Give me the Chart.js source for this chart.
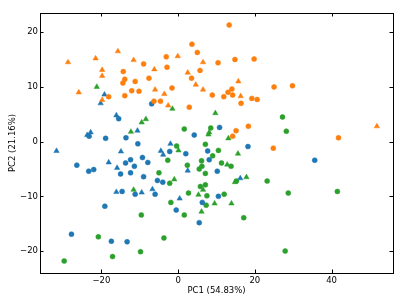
<!DOCTYPE html>
<html>
<head>
<meta charset="utf-8">
<script src="https://cdn.jsdelivr.net/npm/chart.js@4/dist/chart.umd.min.js"></script>
<style>
  body { margin: 0; background: #fff; }
  canvas { display: block; }
</style>
</head>
<body>
<canvas id="mainChart" width="407" height="305"></canvas>
<script>
// PCA scores: [PC1, PC2]
const orangeCircles = [
  [-9.0, 14.2], [-14.3, 12.8], [-13.9, 11.4], [-14.4, 10.7], [-11.2, 11.0], [-7.6, 11.6],
  [-18.1, 8.2], [-13.9, 8.4], [-12.1, 9.3], [-10.2, 9.2], [-6.3, 7.4], [-4.6, 7.4],
  [-3.1, 15.5], [-2.9, 13.6], [-1.6, 9.8], [2.9, 6.3], [3.6, 17.8], [5.0, 16.3],
  [5.7, 13.0], [3.5, 11.6], [13.3, 21.3], [10.4, 14.4], [14.8, 15.0], [19.8, 15.1],
  [8.9, 8.5], [11.9, 8.2], [13.0, 9.0], [14.0, 9.6], [14.2, 8.5], [16.4, 7.0],
  [19.2, 7.9], [20.6, 7.7], [25.0, 10.0], [29.8, 10.2], [18.3, 2.8], [15.1, 2.0],
  [14.2, 1.0], [41.8, 0.7], [24.8, -1.2]
];
const orangeTriangles = [
  [-28.7, 14.5], [-21.5, 15.2], [-15.7, 16.5], [-11.6, 14.9], [-6.2, 13.2], [-19.8, 13.1],
  [-19.8, 12.0], [-25.9, 9.0], [-6.0, 9.5], [-19.8, 7.6], [-3.6, 8.7], [-2.6, 6.6],
  [-0.1, 15.6], [2.5, 12.6], [4.6, 10.4], [6.5, 14.5], [6.5, 9.5], [15.7, 11.0],
  [16.3, 8.3], [51.8, 2.8]
];
const blueCircles = [
  [-6.9, 6.9], [-15.5, 4.2], [-23.2, 1.0], [-18.9, 0.6], [-13.6, 0.7], [-10.5, -0.4],
  [-9.3, -2.9], [-12.4, -3.3], [-7.9, -3.8], [-13.7, -3.9], [-11.4, -4.5], [-26.4, -4.3],
  [-23.3, -5.4], [-22.0, -5.1], [-15.0, -5.9], [-12.4, -5.7], [-9.0, -6.4], [-5.4, -7.1],
  [-4.0, -7.4], [-14.6, -9.1], [-11.2, -9.6], [-6.0, -9.6], [-19.1, -11.8], [-27.8, -16.9],
  [-17.4, -18.2], [-13.3, -18.3], [-2.2, -1.8], [2.0, -2.2], [4.2, 1.2], [10.8, 2.6],
  [7.7, -1.7], [18.2, -0.9], [8.1, -3.3], [10.2, -5.4], [6.3, -11.1], [10.5, -10.0],
  [-0.5, -12.5], [5.5, -14.8], [35.6, -3.4]
];
const blueTriangles = [
  [-19.2, 8.6], [-20.2, 7.0], [-16.1, 4.8], [-10.6, 2.0], [-22.8, 1.7], [-23.7, 1.2],
  [-31.7, -1.7], [-14.9, -1.8], [-4.5, -1.7], [-3.9, -2.4], [-2.0, -0.4], [-18.1, -3.8],
  [-15.9, -4.8], [-16.1, -9.2], [-9.5, -9.3], [-6.7, -8.7], [2.5, -5.3], [0.4, -10.4],
  [16.2, -6.7]
];
const greenCircles = [
  [-0.4, -0.8], [1.6, 2.3], [7.1, -0.5], [8.5, 2.5], [10.5, -1.6], [9.0, -2.6],
  [-2.7, -3.4], [6.1, -3.5], [11.3, -3.9], [13.8, -4.5], [2.4, -4.3], [6.2, -4.5],
  [5.5, -5.0], [7.1, -5.8], [-5.0, -5.7], [-2.2, -7.6], [15.2, -7.2], [23.2, -7.2],
  [5.8, -8.2], [7.1, -7.9], [2.7, -9.4], [7.5, -9.9], [12.0, -9.6], [-1.9, -11.1],
  [7.3, -11.6], [1.6, -13.4], [-9.6, -13.4], [17.1, -13.9], [28.7, -9.4], [41.5, -9.1],
  [27.2, 4.5], [28.2, 1.9], [27.9, -20.0], [-20.8, -17.4], [-9.8, -20.1], [-29.7, -21.8],
  [-17.1, -21.0], [-3.7, -17.6]
];
const greenTriangles = [
  [-21.2, 10.0], [-8.4, 4.1], [-9.5, 3.5], [-12.3, 1.8], [-1.5, 6.0], [0.1, -1.6],
  [9.7, 5.2], [8.1, 1.7], [7.9, 1.3], [13.1, 0.6], [15.6, -2.2], [12.8, -4.2],
  [-1.0, -6.9], [6.5, -8.8], [5.3, -9.7], [9.5, -11.3], [13.9, -11.3], [6.1, -12.8],
  [14.8, -7.4], [17.8, -6.5], [-11.6, -8.8]
];
const xTicks = [-20, 0, 20, 40];
const yTicks = [-20, -10, 0, 10, 20];

const BLUE = '#1f77b4', ORANGE = '#ff7f0e', GREEN = '#2ca02c';
const FONT = { family: 'DejaVu Sans', size: 8.5 };

function toPoints(list) {
  return list.map(p => ({ x: p[0], y: p[1] }));
}
function series(list, color, shape) {
  return {
    data: toPoints(list),
    pointStyle: shape,
    pointRadius: shape === 'triangle' ? 3.1 : 2.5,
    pointBackgroundColor: color,
    pointBorderColor: color,
    pointBorderWidth: 0.5
  };
}
function minusLabel(v) {
  return v < 0 ? '\u2212' + Math.abs(v) : String(v);
}

// box round the plot with inward tick marks on all four sides
const frame = {
  id: 'frame',
  afterDraw(chart) {
    const { ctx, chartArea: a, scales: { x, y } } = chart;
    const len = 3.5;
    ctx.save();
    ctx.strokeStyle = '#000';
    ctx.lineWidth = 1;
    ctx.beginPath();
    x.ticks.forEach(t => {
      const px = Math.round(x.getPixelForValue(t.value)) + 0.5;
      ctx.moveTo(px, a.bottom); ctx.lineTo(px, a.bottom - len);
      ctx.moveTo(px, a.top); ctx.lineTo(px, a.top + len);
    });
    y.ticks.forEach(t => {
      const py = Math.round(y.getPixelForValue(t.value)) + 0.5;
      ctx.moveTo(a.left, py); ctx.lineTo(a.left + len, py);
      ctx.moveTo(a.right, py); ctx.lineTo(a.right - len, py);
    });
    ctx.stroke();
    ctx.strokeRect(Math.round(a.left) + 0.5, Math.round(a.top) + 0.5,
      Math.round(a.width), Math.round(a.height));
    ctx.restore();
  }
};

const ctx = document.getElementById('mainChart').getContext('2d');
new Chart(ctx, {
  type: 'scatter',
  data: {
    datasets: [
      series(orangeCircles, ORANGE, 'circle'),
      series(orangeTriangles, ORANGE, 'triangle'),
      series(blueCircles, BLUE, 'circle'),
      series(blueTriangles, BLUE, 'triangle'),
      series(greenCircles, GREEN, 'circle'),
      series(greenTriangles, GREEN, 'triangle')
    ]
  },
  options: {
    responsive: false,
    animation: false,
    layout: { padding: { top: 13, right: 14, left: 0, bottom: 0 } },
    plugins: { legend: { display: false }, tooltip: { enabled: false } },
    scales: {
      x: {
        type: 'linear',
        min: -36,
        max: 56,
        afterBuildTicks: s => { s.ticks = xTicks.map(v => ({ value: v })); },
        afterFit: s => { s.height = 32; },
        grid: { display: false, drawTicks: false },
        border: { display: false },
        ticks: { color: '#000', font: FONT, padding: 3, maxRotation: 0, callback: minusLabel },
        title: { display: true, text: 'PC1 (54.83%)', color: '#000', font: FONT, padding: { top: 0, bottom: 9 } }
      },
      y: {
        type: 'linear',
        min: -24,
        max: 23.5,
        afterBuildTicks: s => { s.ticks = yTicks.map(v => ({ value: v })); },
        afterFit: s => { s.width = 40; },
        grid: { display: false, drawTicks: false },
        border: { display: false },
        ticks: { color: '#000', font: FONT, padding: 2, callback: minusLabel },
        title: { display: true, text: 'PC2 (21.16%)', color: '#000', font: FONT, padding: { top: 8, bottom: 0 } }
      }
    }
  },
  plugins: [frame]
});
</script>
</body>
</html>
